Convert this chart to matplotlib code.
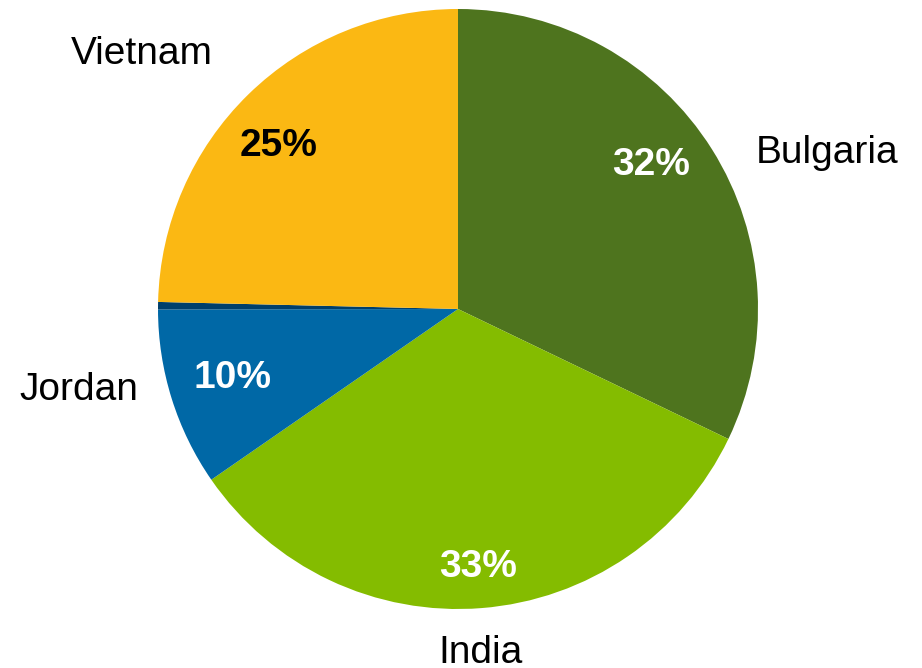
import matplotlib.pyplot as plt
import numpy as np

plt.rcParams['font.family'] = ['Liberation Sans', 'DejaVu Sans']

# ==== DADOS ====
paises = ['Bulgaria', 'India', 'Jordan', '', 'Vietnam']
valores = [32.1, 33.2, 9.6, 0.4, 24.6]
cores = ['#4E741E', '#84BC00', '#0068A6', '#003F6B', '#FBB813']
cor_pct = ['white', 'white', 'white', 'white', 'black']

# ==== LAYOUT DOS RÓTULOS (ângulo em graus, distância relativa ao raio) ====
rotulo_ang = [23.3, -86.3, 191.7, 0, 140.7]
rotulo_dist = [1.34, 1.14, 1.29, 0, 1.36]
pct_ang = [37.3, -85.5, 196.4, 0, 137.2]
pct_dist = [0.809, 0.851, 0.785, 0, 0.813]
desloc_y = -0.01  # compensa a descida da fonte no alinhamento vertical

# ==== FIGURA ====
fig = plt.figure(figsize=(9.22, 6.68), dpi=100)
ax = fig.add_axes([158 / 922, 59 / 668, 600 / 922, 600 / 668])

wedges, _ = ax.pie(
    valores, colors=cores, startangle=90, counterclock=False,
    wedgeprops=dict(linewidth=0),
)

total = sum(valores)
for nome, v, cor, ang, d, pa, pd in zip(paises, valores, cor_pct, rotulo_ang,
                                         rotulo_dist, pct_ang, pct_dist):
    if not nome:
        continue
    a = np.deg2rad(ang)
    ax.text(d * np.cos(a), d * np.sin(a) + desloc_y, nome,
            ha='center', va='center', fontsize=28)
    b = np.deg2rad(pa)
    ax.text(pd * np.cos(b), pd * np.sin(b) + desloc_y,
            f'{100 * v / total:.0f}%', ha='center', va='center',
            fontsize=28, fontweight='bold', color=cor)

ax.set_xlim(-1, 1)
ax.set_ylim(-1, 1)
ax.set_aspect('equal')

fig.savefig('out.png', dpi=100)
